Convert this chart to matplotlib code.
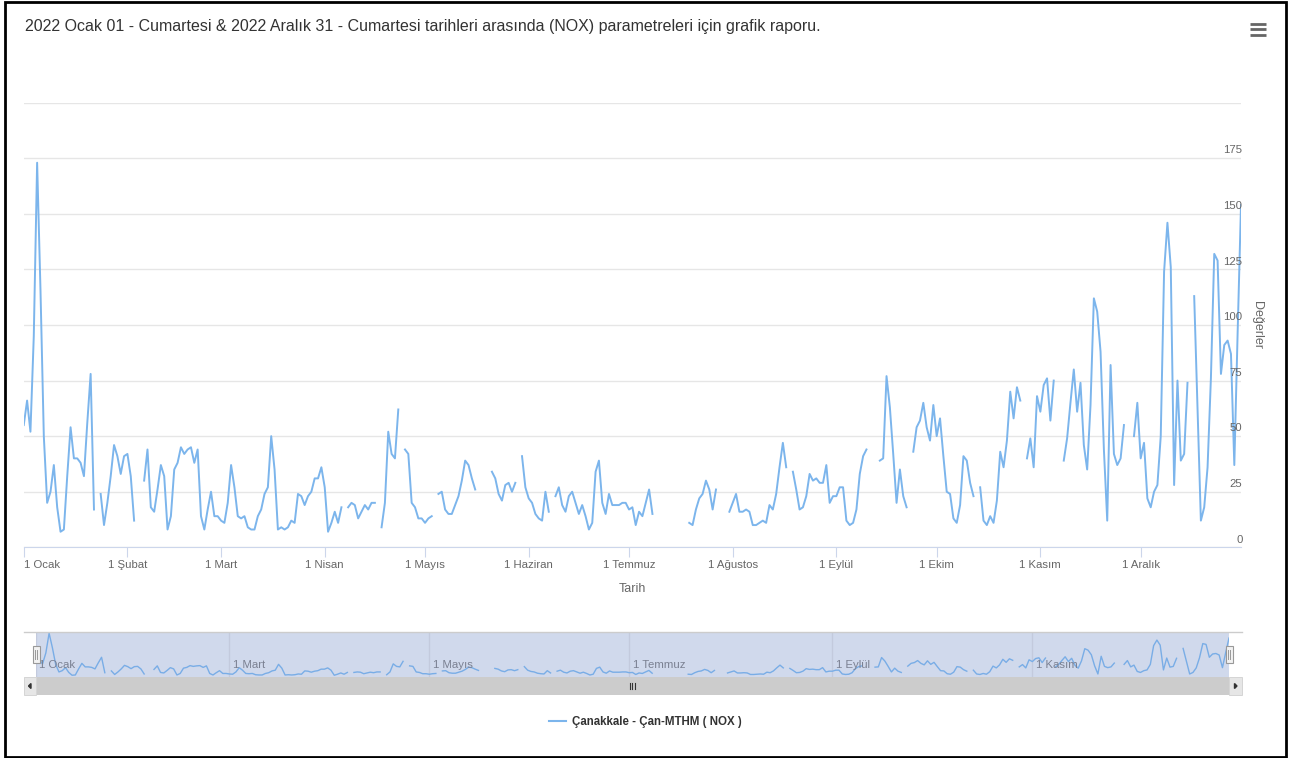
import matplotlib
matplotlib.use('Agg')
import matplotlib.pyplot as plt
from matplotlib.patches import Rectangle
import numpy as np
import pandas as pd

plt.rcParams['font.family'] = ['Liberation Sans', 'DejaVu Sans']

title = ('2022 Ocak 01 - Cumartesi & 2022 Aralık 31 - Cumartesi tarihleri arasında '
         '(NOX) parametreleri için grafik raporu.')
series_name = 'Çanakkale - Çan-MTHM ( NOX )'
month_labels = ['1 Ocak', '1 Şubat', '1 Mart', '1 Nisan', '1 Mayıs', '1 Haziran',
                '1 Temmuz', '1 Ağustos', '1 Eylül', '1 Ekim', '1 Kasım', '1 Aralık']
nav_labels = ['1 Ocak', '1 Mart', '1 Mayıs', '1 Temmuz', '1 Eylül', '1 Kasım']
y_ticks = [0, 25, 50, 75, 100, 125, 150, 175]

# daily NOX values per month, None = no measurement that day
ocak = [55, 66, 52, 95, 173, 116, 50, 20, 25, 37, 18, 7, 8, 32, 54, 40, 40, 38, 32, 56,
        78, 17, None, 24, 10, 20, 32, 46, 41, 33, 41]
subat = [42, 32, 12, None, None, 30, 44, 18, 16, 26, 37, 32, 8, 14, 35, 38, 45, 42, 44, 45,
         38, 44, 14, 8, 17, 25, 14, 14]
mart = [12, 11, 20, 37, 27, 14, 13, 14, 9, 8, 8, 14, 17, 24, 27, 50, 35, 8, 9, 8,
        9, 12, 11, 24, 23, 19, 23, 25, 31, 31, 36]
nisan = [27, 7, 11, 16, 11, 18, None, 18, 20, 19, 13, 16, 19, 17, 20, 20, None, 9, 20, 52,
         42, 40, 62, None, 44, 42, 20, 18, 13, 13]
mayis = [11, 13, 14, None, 24, 25, 17, 15, 15, 19, 23, 30, 39, 37, 31, 26, None, None, None, None,
         34, 31, 24, 21, 28, 29, 25, 29, None, 41, 27]
haziran = [22, 20, 15, 13, 12, 25, 16, None, 23, 27, 19, 16, 23, 25, 20, 15, 19, 14, 8, 11,
           34, 39, 20, 15, 24, 19, 19, 19, 20, 20]
temmuz = [17, 18, 10, 16, 14, 20, 26, 15, None, None, None, None, None, None, None, None, None, None, 11, 10,
          17, 22, 24, 30, 26, 17, 26, None, None, None, 16]
agustos = [20, 24, 16, 16, 17, 16, 10, 10, 11, 12, 11, 19, 17, 24, 36, 47, 36, None, 34, 26,
           17, 18, 23, 33, 30, 31, 29, 29, 37, 20, 23]
eylul = [23, 27, 27, 12, 10, 11, 17, 33, 41, 44, None, None, None, 39, 40, 77, 63, 42, 20, 35,
         23, 18, None, 43, 54, 57, 65, 54, 48, 64]
ekim = [50, 58, 41, 25, 24, 13, 11, 19, 41, 39, 29, 23, None, 27, 12, 10, 14, 11, 21, 43,
        36, 48, 70, 58, 72, 66, None, 40, 49, 36, 68]
kasim = [61, 73, 76, 57, 75, None, None, 39, 49, 65, 80, 61, 74, 46, 35, 64, 112, 106, 88, 44,
         12, 82, 42, 37, 40, 55, None, None, 50, 65]
aralik = [40, 47, 22, 18, 25, 28, 50, 124, 146, 126, 28, 75, 39, 42, 74, None, 113, 63, 12, 18,
          36, 76, 132, 129, 78, 91, 93, 87, 37, 97, 154]

values = np.array(ocak + subat + mart + nisan + mayis + haziran + temmuz + agustos
                  + eylul + ekim + kasim + aralik, dtype=float)
dates = pd.date_range('2022-01-01', '2022-12-31', freq='D')
month_starts = pd.date_range('2022-01-01', periods=12, freq='MS')
nav_ticks = month_starts[::2]

W, H = 1292, 758
LINE = '#7cb5ec'


def box(x0, y0, x1, y1):
    return [x0 / W, 1 - y1 / H, (x1 - x0) / W, (y1 - y0) / H]


fig = plt.figure(figsize=(W / 100, H / 100), dpi=100)

# main chart
ax = fig.add_axes(box(23.75, 102.7, 1241, 547.3))
ax.plot(dates, values, color=LINE, lw=1.4, solid_joinstyle='round', zorder=3)
ax.set_xlim(dates[0], dates[-1])
ax.set_ylim(0, 200)
ax.set_yticks(range(0, 201, 25))
ax.yaxis.grid(True, color='#e6e6e6', lw=1)
ax.set_axisbelow(True)
ax.tick_params(axis='y', length=0, labelleft=False)
for side in ['top', 'left', 'right']:
    ax.spines[side].set_visible(False)
ax.spines['bottom'].set_color('#ccd6eb')
ax.set_xticks(month_starts)
ax.set_xticklabels(month_labels)
ax.tick_params(axis='x', length=7.2, color='#ccd6eb', labelcolor='#666666',
               labelsize=8.2, pad=2.2)
ax.get_xticklabels()[0].set_horizontalalignment('left')
ax.set_xlabel('Tarih', color='#666666', fontsize=9, labelpad=9)
for v in y_ticks:
    ax.annotate(str(v), xy=(1.0, v), xycoords=ax.get_yaxis_transform(),
                xytext=(1, 2), textcoords='offset points', ha='right', va='bottom',
                color='#666666', fontsize=8.2)
fig.text(1257 / W, 1 - 325 / H, 'Değerler', rotation=270, ha='center', va='center',
         color='#666666', fontsize=9)

fig.text(25 / W, 1 - 26 / H, title, color='#333333', fontsize=11.55, va='center')

# navigator with full range selected
nav = fig.add_axes(box(36, 632.5, 1229, 677))
nav.set_facecolor('#d0d9ec')
nav.plot(dates, values, color='#79ade6', lw=1, zorder=3)
nav.set_xlim(dates[0], dates[-1])
nav.set_ylim(0, 176)
nav.set_xticks(nav_ticks)
nav.xaxis.grid(True, color='#c3cadd', lw=1)
nav.tick_params(length=0, labelbottom=False, labelleft=False)
nav.set_yticks([])
for s in nav.spines.values():
    s.set_visible(False)
for d, lab in zip(nav_ticks, nav_labels):
    nav.annotate(lab, xy=(d, 0), xycoords=('data', 'axes fraction'), xytext=(2.5, 5),
                 textcoords='offset points', ha='left', va='bottom', color='#7a8091',
                 fontsize=8.2)

# overlay in pixel coordinates for the widgets and frame
ov = fig.add_axes([0, 0, 1, 1], zorder=10)
ov.set_xlim(0, W)
ov.set_ylim(H, 0)
ov.axis('off')
ov.patch.set_alpha(0)

ov.plot([24, 1242], [632, 632], color='#cccccc', lw=1)
# scrollbar
ov.add_patch(Rectangle((24, 677), 1218, 18, facecolor='#f2f2f2', edgecolor='none'))
ov.add_patch(Rectangle((36, 677), 1193, 18, facecolor='#cccccc', edgecolor='none'))
ov.add_patch(Rectangle((24, 677), 12, 18, facecolor='#e6e6e6', edgecolor='#d5d5d5', lw=0.7))
ov.add_patch(Rectangle((1229, 677), 12.5, 18, facecolor='#e6e6e6', edgecolor='#d5d5d5', lw=0.7))
ov.fill([31, 28.5, 31], [683.5, 686, 688.5], color='#333333')
ov.fill([1234.5, 1237, 1234.5], [683.5, 686, 688.5], color='#333333')
for gx in [629.5, 632, 634.5]:
    ov.plot([gx, gx], [683, 689], color='#333333', lw=0.8)
# navigator handles
for hx in [36, 1229]:
    ov.add_patch(Rectangle((hx - 3.5, 646), 7, 17, facecolor='#f2f2f2', edgecolor='#999999', lw=0.8))
    for lx in [hx - 1.2, hx + 1.2]:
        ov.plot([lx, lx], [650, 659], color='#999999', lw=0.7)

# legend
ov.plot([549, 566], [721, 721], color=LINE, lw=1.5)
ov.text(572, 722, series_name, color='#333333', fontsize=8.3, fontweight='bold', va='center')

# export menu icon
for my in [23.5, 29, 34.5]:
    ov.plot([1250, 1266], [my, my], color='#666666', lw=2, solid_capstyle='butt')

# outer frame
ov.add_patch(Rectangle((4.5, 2), 1281, 754.5, facecolor='none', edgecolor='black', lw=2))

fig.savefig('out.png', dpi=100)
